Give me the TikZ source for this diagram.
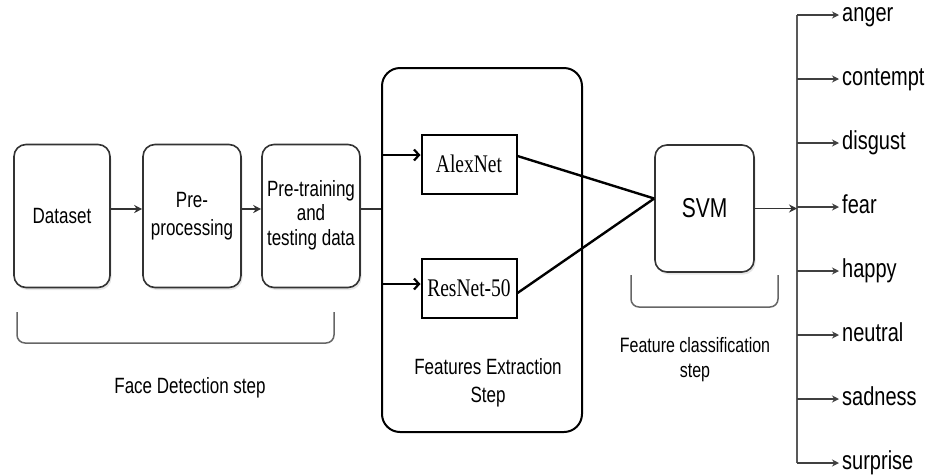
\documentclass[tikz,border=0pt]{standalone}
\usepackage{fontspec}
\setmainfont{Liberation Sans}
\newfontfamily\serifnet{Liberation Serif}
\usetikzlibrary{arrows.meta,shadows}
% Text in this figure is drawn slightly taller than its natural shape
\newcommand\tallt[1]{\scalebox{1}[1.3]{#1}}

\begin{document}
\begin{tikzpicture}[x=1pt,y=-1pt,
  stage/.style={draw=black!80, line width=1.6pt, rounded corners=12pt, fill=white,
    drop shadow={opacity=0.2, shadow xshift=1.5pt, shadow yshift=-2.5pt},
    inner sep=0pt, align=center, font=\fontsize{17}{21}\selectfont},
  netbox/.style={draw=black, line width=2pt, minimum width=95pt, minimum height=59pt,
    inner sep=0pt, font=\serifnet\fontsize{19.5}{23}\selectfont},
  arr/.style={-{Stealth[length=8pt,width=8pt]}, line width=1.5pt, draw=black!80},
  barb/.style={-{Straight Barb[length=5pt,width=11pt]}, line width=2.2pt, draw=black},
  link/.style={line width=2.4pt, draw=black},
  brace/.style={draw=black!60, line width=1.5pt, rounded corners=8pt},
  emo/.style={anchor=west, inner sep=0pt, text height=18.7pt, text depth=5.5pt,
    font=\fontsize{20}{24}\selectfont},
  caption/.style={font=\fontsize{17}{21}\selectfont, align=center, inner sep=0pt}]

\useasboundingbox (0,0) rectangle (935,475);

% face detection stage
\node[stage, minimum width=96pt, minimum height=143pt] (data) at (62,216)
  {\tallt{Dataset}};
\node[stage, minimum width=98pt, minimum height=143pt] (pre) at (192,216)
  {\tallt{\begin{tabular}{@{}c@{}}Pre-\\processing\end{tabular}}};
\node[stage, minimum width=98pt, minimum height=143pt, font=\fontsize{17}{19}\selectfont] (pretrain) at (311,216)
  {\tallt{\begin{tabular}{@{}c@{}}Pre-training\\and\\testing data\end{tabular}}};

\draw[arr] ([yshift=7pt]data.east) -- ([yshift=7pt]pre.west);
\draw[arr] ([yshift=7pt]pre.east) -- ([yshift=7pt]pretrain.west);

\draw[brace] (17,312) -- (17,343) -- (334,343) -- (334,312);
\node[caption] (facecap) at (190,388) {\tallt{Face Detection step}};

% feature extraction stage
\node[draw=black, line width=2pt, rounded corners=18pt, minimum width=200pt,
  minimum height=364pt, inner sep=0pt] (feat) at (482,250) {};
\node[caption] (featcap) at (488,383)
  {\tallt{\begin{tabular}{@{}c@{}}Features Extraction\\Step\end{tabular}}};

\node[netbox] (alex) at (469,164) {\tallt{AlexNet}};
\node[netbox] (res) at (469,288) {\tallt{ResNet-50}};

\coordinate (ptout) at ([yshift=7pt]pretrain.east);
\draw[line width=1.5pt, draw=black!80] (ptout) -- (ptout -| feat.west);

\coordinate (ain) at ([yshift=9pt]alex.west);
\coordinate (rin) at ([yshift=4pt]res.west);
\draw[barb] (ain -| feat.west) -- (ain);
\draw[barb] (rin -| feat.west) -- (rin);

% classification stage
\node[stage, minimum width=99pt, minimum height=127pt, font=\fontsize{21}{25}\selectfont] (svm) at (704.5,208.5)
  {\tallt{SVM}};
\coordinate (svmin) at ([yshift=10pt]svm.west);
\draw[link] ([yshift=8pt]alex.east) -- (svmin);
\draw[link] ([yshift=-5pt]res.east) -- (svmin);

\draw[brace] (631,275) -- (631,307) -- (778,307) -- (778,275);
\node[caption, font=\fontsize{16}{19}\selectfont] (svmcap) at (695,360)
  {\tallt{\begin{tabular}{@{}c@{}}Feature classification\\step\end{tabular}}};

% emotion outputs
\coordinate (top) at (797,15);
\coordinate (bot) at (797,463);
\draw[line width=1.5pt, draw=black!65] (top) -- (bot);
\draw[arr] (svm.east) -- (svm.east -| top);

\foreach \emotion/\ypos in {anger/15,contempt/79,disgust/143,fear/207,happy/271,neutral/335,sadness/399,surprise/463}{
  \node[emo] (\emotion) at (842,\ypos) {\tallt{\emotion}};
  \draw[arr, -{Stealth[length=7pt,width=7pt]}, line width=1.4pt, draw=black!75]
    (top |- \emotion.west) -- ([xshift=-3pt]\emotion.west);
}
\end{tikzpicture}
\end{document}
